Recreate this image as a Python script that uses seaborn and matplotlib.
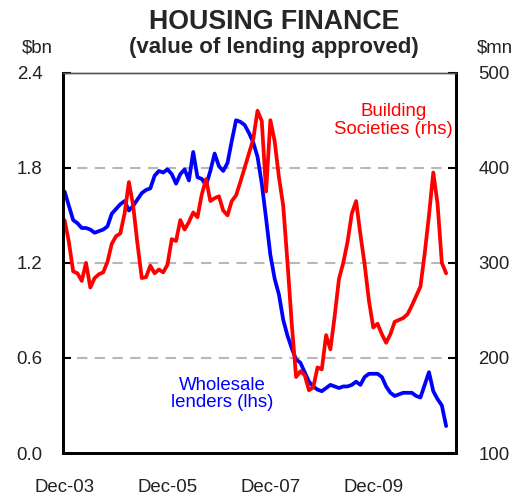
import numpy as np
import pandas as pd
import matplotlib
matplotlib.use("Agg")
import matplotlib.pyplot as plt
import seaborn as sns

# months since Dec-03 (0 = Dec-03)
months = list(range(90))

wholesale_bn = [
    1.65, 1.56, 1.47, 1.45, 1.42, 1.42, 1.41, 1.39, 1.40, 1.41,
    1.43, 1.51, 1.54, 1.57, 1.59, 1.53, 1.56, 1.60, 1.64, 1.66,
    1.67, 1.75, 1.78, 1.77, 1.79, 1.76, 1.70, 1.76, 1.79, 1.72,
    1.90, 1.74, 1.73, 1.69, 1.78, 1.89, 1.81, 1.78, 1.83, 1.97,
    2.10, 2.09, 2.07, 2.02, 1.96, 1.87, 1.70, 1.48, 1.25, 1.10,
    1.00, 0.84, 0.74, 0.66, 0.59, 0.57, 0.51, 0.45, 0.42, 0.40,
    0.39, 0.41, 0.43, 0.42, 0.41, 0.42, 0.42, 0.43, 0.45, 0.43,
    0.48, 0.50, 0.50, 0.50, 0.48, 0.42, 0.38, 0.36, 0.37, 0.38,
    0.38, 0.38, 0.36, 0.35, 0.43, 0.51, 0.39, 0.34, 0.30, 0.17,
]

building_soc_mn = [
    345, 322, 291, 289, 281, 300, 274, 284, 288, 290,
    301, 320, 328, 331, 352, 385, 360, 320, 284, 285,
    297, 289, 293, 290, 298, 325, 323, 345, 335, 343,
    353, 348, 372, 388, 365, 368, 370, 355, 350, 365,
    371, 385, 400, 415, 430, 460, 449, 375, 450, 428,
    390, 360, 300, 235, 180, 186, 182, 166, 169, 190,
    188, 224, 209, 244, 283, 300, 322, 352, 365, 330,
    298, 260, 232, 236, 225, 216, 225, 238, 240, 242,
    246, 255, 265, 275, 310, 350, 395, 362, 300, 289,
]

x_tick_pos = [0, 24, 48, 72]
x_tick_labels = ["Dec-03", "Dec-05", "Dec-07", "Dec-09"]
left_ticks = [0.0, 0.6, 1.2, 1.8, 2.4]
right_ticks = [100, 200, 300, 400, 500]

df = pd.DataFrame({"month": months, "wholesale": wholesale_bn, "bsoc": building_soc_mn})

sns.set_style("white")
plt.rcParams["font.family"] = ["Liberation Sans", "DejaVu Sans"]

W, H = 529, 495
fig = plt.figure(figsize=(W / 100, H / 100), dpi=100)
L, R, T, B = 63.3, 456.0, 72.7, 453.0
ax = fig.add_axes([L / W, 1 - B / H, (R - L) / W, (B - T) / H])
ax2 = ax.twinx()

sns.lineplot(data=df, x="month", y="wholesale", ax=ax, color="#0000ff", linewidth=2.7)
sns.lineplot(data=df, x="month", y="bsoc", ax=ax2, color="#ff0000", linewidth=2.7)
for a in (ax, ax2):
    for ln in a.get_lines():
        ln.set_solid_joinstyle("round")
        ln.set_solid_capstyle("round")

ax.set_xlim(-0.3, 91.3)
ax.set_ylim(0, 2.4)
ax2.set_ylim(100, 500)

for g in [0.6, 1.2, 1.8]:
    ax.axhline(g, xmin=0.035, xmax=0.975, color="#b8b8b8", linewidth=1.5,
               dashes=(5, 3.5), zorder=0)

ax.set_xticks(list(range(0, 91, 12)))
ax.set_xticklabels([x_tick_labels[x_tick_pos.index(m)] if m in x_tick_pos else "" for m in range(0, 91, 12)])
ax.set_yticks(left_ticks)
ax.set_yticklabels([f"{v:.1f}" for v in left_ticks])
ax2.set_yticks(right_ticks)
ax2.set_yticklabels([str(v) for v in right_ticks])

fs = 13.4
ax.tick_params(axis="x", direction="in", length=6, width=1.5, pad=19, labelsize=fs, colors="black")
ax.tick_params(axis="y", direction="in", length=6, width=1.5, pad=15, labelsize=fs, colors="black")
ax2.tick_params(axis="y", direction="in", length=6, width=1.5, pad=16, labelsize=fs, colors="black")
for a in (ax, ax2):
    a.set_xlabel("")
    a.set_ylabel("")
    for side in ("left", "right", "bottom"):
        a.spines[side].set_color("black")
        a.spines[side].set_linewidth(2)
    a.spines["top"].set_color("#555555")
    a.spines["top"].set_linewidth(1)
for lbl in ax.get_xticklabels() + ax.get_yticklabels() + ax2.get_yticklabels():
    lbl.set_color("#222222")

fig.text(274 / W, 1 - 22 / H, "HOUSING FINANCE", ha="center", va="center",
         fontsize=19.3, fontweight="bold")
fig.text(274 / W, 1 - 48 / H, "(value of lending approved)", ha="center", va="center",
         fontsize=16, fontweight="bold")
fig.text(37 / W, 1 - 48 / H, "$bn", ha="center", va="center", fontsize=fs, color="#222222")
fig.text(495 / W, 1 - 48 / H, "$mn", ha="center", va="center", fontsize=fs, color="#222222")

ax.text(0.84, 0.875, "Building\nSocieties (rhs)", transform=ax.transAxes, ha="center",
        va="center", fontsize=fs, color="#ff0000", linespacing=1.05)
ax.text(0.405, 0.155, "Wholesale\nlenders (lhs)", transform=ax.transAxes, ha="center",
        va="center", fontsize=fs, color="#0000ff", linespacing=1.05)

fig.savefig("out.png", dpi=100)
